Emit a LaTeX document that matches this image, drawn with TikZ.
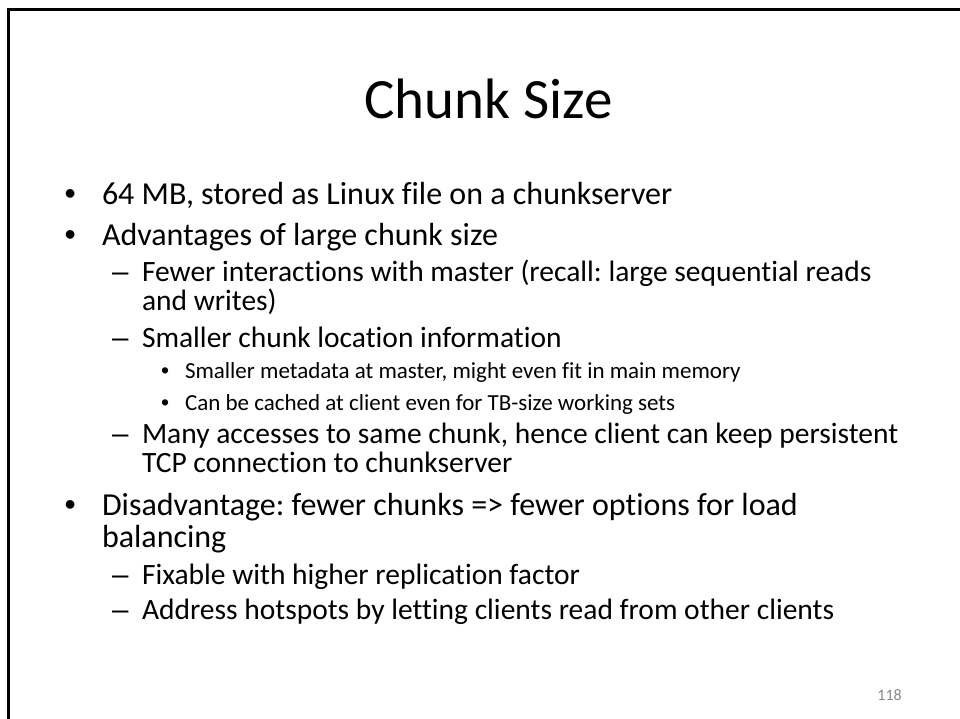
\documentclass[tikz,border=0pt]{standalone}
\usepackage{fontspec}
\setmainfont{Carlito}[Ligatures={NoCommon}]
\newfontfamily\bulletfont{Liberation Sans}
\definecolor{pagegray}{HTML}{898989}
\frenchspacing
\begin{document}
\begin{tikzpicture}[x=1pt,y=-1pt,
  txt/.style={anchor=base west, inner sep=0pt, outer sep=0pt},
  lone/.style={txt, font=\fontsize{32}{38}\selectfont},
  ltwo/.style={txt, font=\fontsize{29.5}{35}\selectfont},
  lthree/.style={txt, font=\fontsize{23}{28}\selectfont},
  bone/.style={txt, font=\bulletfont\fontsize{32}{38}\selectfont},
  btwo/.style={txt, font=\bulletfont\fontsize{29.5}{35}\selectfont},
  bthree/.style={txt, font=\bulletfont\fontsize{23}{28}\selectfont},
  frameline/.style={line width=3pt, line join=miter}]
\useasboundingbox (0,0) rectangle (960,719);
\fill[white] (0,0) rectangle (960,719);
\coordinate (fb) at (8.5,730);
\coordinate (fc) at (8.5,9.5);
\coordinate (fr) at (970,9.5);
\draw[frameline] (fb) -- (fc) -- (fr);

\node[anchor=base, inner sep=0pt, font=\fontsize{57}{68}\selectfont] (title) at (488.5,119) {Chunk Size};

% level 1
\node[bone] (b1) at (64.5,205) {•};
\node[lone] (t1) at (102,205) {64 MB, stored as Linux file on a chunkserver};
\node[bone] (b2) at (64.5,245) {•};
\node[lone] (t2) at (102,245) {Advantages of large chunk size};
% level 2
\node[btwo] (d1) at (112,281) {–};
\node[ltwo] (t3) at (142,281) {Fewer interactions with master (recall: large sequential reads};
\node[ltwo] (t3b) at (142,310) {and writes)};
\node[btwo] (d2) at (112,347) {–};
\node[ltwo] (t4) at (142,347) {Smaller chunk location information};
% level 3
\node[bthree] (c1) at (161,378) {•};
\node[lthree] (t5) at (185,378) {Smaller metadata at master, might even fit in main memory};
\node[bthree] (c2) at (161,410) {•};
\node[lthree] (t6) at (185,410) {Can be cached at client even for TB-size working sets};
% level 2
\node[btwo] (d3) at (112,443) {–};
\node[ltwo] (t7) at (142,443) {Many accesses to same chunk, hence client can keep persistent};
\node[ltwo] (t7b) at (142,472) {TCP connection to chunkserver};
% level 1
\node[bone] (b3) at (64.5,515) {•};
\node[lone] (t8) at (102,515) {Disadvantage: fewer chunks => fewer options for load};
\node[lone] (t8b) at (102,547) {balancing};
% level 2
\node[btwo] (d4) at (112,584) {–};
\node[ltwo] (t9) at (142,584) {Fixable with higher replication factor};
\node[btwo] (d5) at (112,619) {–};
\node[ltwo] (t10) at (142,619) {Address hotspots by letting clients read from other clients};

\node[anchor=base east, inner sep=0pt, text=pagegray, font=\fontsize{16}{19}\selectfont] (pg) at (902,700) {118};
\end{tikzpicture}
\end{document}
